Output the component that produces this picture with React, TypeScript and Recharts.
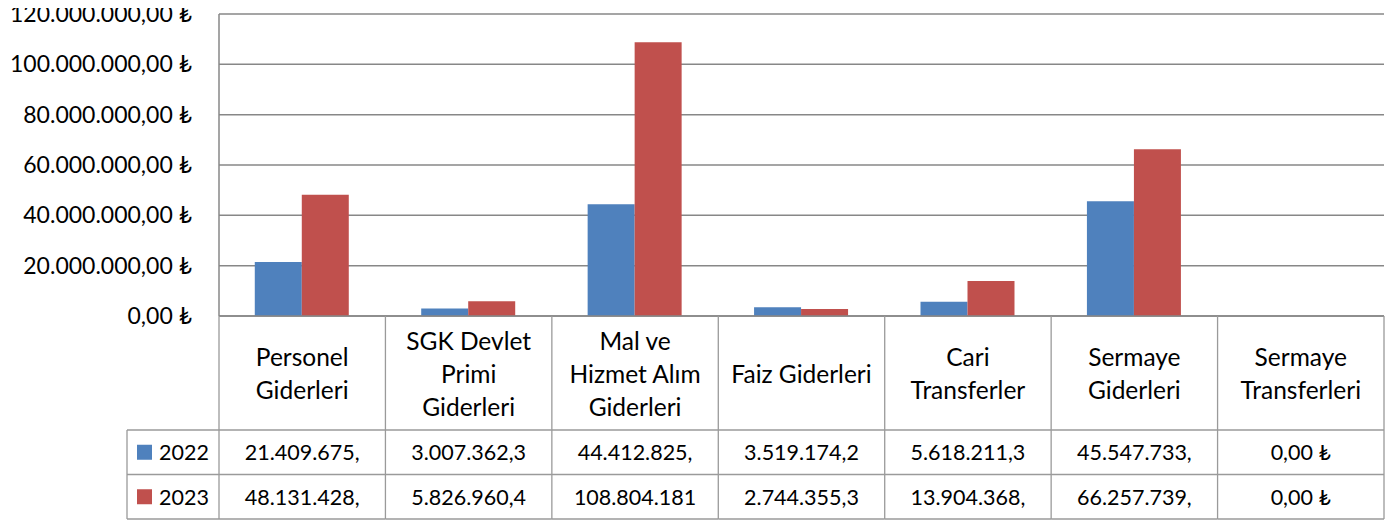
import { BarChart, Bar, XAxis, YAxis, CartesianGrid } from 'recharts'

const categories = [
  'Personel\nGiderleri',
  'SGK Devlet\nPrimi\nGiderleri',
  'Mal ve\nHizmet Alım\nGiderleri',
  'Faiz Giderleri',
  'Cari\nTransferler',
  'Sermaye\nGiderleri',
  'Sermaye\nTransferleri',
]
const seriesNames = ['2022', '2023']
const values2022 = [21409675, 3007362.3, 44412825, 3519174.2, 5618211.3, 45547733, 0]
const values2023 = [48131428, 5826960.4, 108804181, 2744355.3, 13904368, 66257739, 0]
// table cells show the text cut off the way the original sheet does
const labels2022 = ['21.409.675,', '3.007.362,3', '44.412.825,', '3.519.174,2', '5.618.211,3', '45.547.733,', '0,00 ₺']
const labels2023 = ['48.131.428,', '5.826.960,4', '108.804.181', '2.744.355,3', '13.904.368,', '66.257.739,', '0,00 ₺']
const yTicks = [0, 20000000, 40000000, 60000000, 80000000, 100000000, 120000000]

const colors = ['#4F81BD', '#C0504D']
const FONT = "Lato, 'DejaVu Sans', sans-serif"
const GRID = '#878787'
const TABLE_LINE = '#9a9a9a'

const CHART_W = 1384
const CHART_H = 520
const Y_AXIS_W = 211
const MARGIN = { top: 14, right: 8, bottom: 0, left: 0 }
const PLOT_W = CHART_W - MARGIN.left - MARGIN.right - Y_AXIS_W
const PLOT_H = 302
const HALF = PLOT_W / categories.length / 2
const HEAD_H = 114
const ROW_H = 44.5
const LEGEND_W = 92

const data = categories.map((name, i) => ({
  name,
  v2022: values2022[i],
  v2023: values2023[i],
}))

function formatLira(v: number) {
  const whole = Math.round(v).toString().replace(/\B(?=(\d{3})+(?!\d))/g, '.')
  return `${whole},00 ₺`
}

function TableTick(props: any) {
  const { x, y, payload } = props
  const i = payload.index
  const left = x - HALF
  const right = x + HALF
  const lines = String(payload.value).split('\n')
  const headMid = y + HEAD_H / 2
  const rowLabels = [labels2022[i], labels2023[i]]
  const lineStart = i === 0 ? left - LEGEND_W : left
  const rowTops = [y + HEAD_H, y + HEAD_H + ROW_H, y + HEAD_H + ROW_H * 2]

  return (
    <g>
      <line x1={left} y1={y} x2={left} y2={rowTops[2]} stroke={TABLE_LINE} strokeWidth={1.3} />
      {i === categories.length - 1 && (
        <line x1={right} y1={y} x2={right} y2={rowTops[2]} stroke={TABLE_LINE} strokeWidth={1.3} />
      )}
      {rowTops.map((ry, k) => (
        <line key={k} x1={lineStart} y1={ry} x2={right} y2={ry} stroke={TABLE_LINE} strokeWidth={1.3} />
      ))}
      {i === 0 && (
        <line x1={left - LEGEND_W} y1={rowTops[0]} x2={left - LEGEND_W} y2={rowTops[2]} stroke={TABLE_LINE} strokeWidth={1.3} />
      )}
      <text textAnchor="middle" fontFamily={FONT} fontSize={24.5} fill="#000">
        {lines.map((ln, k) => (
          <tspan key={k} x={x} y={headMid + (k - (lines.length - 1) / 2) * 33} dominantBaseline="central">
            {ln}
          </tspan>
        ))}
      </text>
      {rowLabels.map((lab, k) => (
        <text
          key={k}
          x={x}
          y={rowTops[k] + ROW_H / 2}
          textAnchor="middle"
          dominantBaseline="central"
          fontFamily={FONT}
          fontSize={21.5}
          fill="#000"
        >
          {lab}
        </text>
      ))}
      {i === 0 &&
        seriesNames.map((s, k) => (
          <g key={s}>
            <rect x={left - 82} y={rowTops[k] + ROW_H / 2 - 7.5} width={15} height={15} fill={colors[k]} />
            <text
              x={left - 60}
              y={rowTops[k] + ROW_H / 2}
              dominantBaseline="central"
              fontFamily={FONT}
              fontSize={21.5}
              fill="#000"
            >
              {s}
            </text>
          </g>
        ))}
    </g>
  )
}

export default function App() {
  return (
    <div style={{ marginTop: -8 }}>
      <BarChart width={CHART_W} height={CHART_H} data={data} margin={MARGIN} barCategoryGap="21.5%" barGap={0}>
        <CartesianGrid vertical={false} stroke={GRID} strokeWidth={1.5} />
        <XAxis
          dataKey="name"
          height={CHART_H - MARGIN.top - PLOT_H}
          interval={0}
          tickLine={false}
          tickSize={0}
          tickMargin={0}
          axisLine={{ stroke: GRID, strokeWidth: 1.5 }}
          tick={(p: any) => <TableTick {...p} />}
        />
        <YAxis
          width={Y_AXIS_W}
          domain={[0, 120000000]}
          ticks={yTicks}
          interval={0}
          tickFormatter={formatLira}
          tickLine={false}
          tickSize={0}
          tickMargin={27}
          axisLine={{ stroke: GRID, strokeWidth: 1.5 }}
          tick={{ fontFamily: FONT, fontSize: 23, fill: '#000' }}
        />
        <Bar dataKey="v2022" name={seriesNames[0]} fill={colors[0]} isAnimationActive={false} />
        <Bar dataKey="v2023" name={seriesNames[1]} fill={colors[1]} isAnimationActive={false} />
      </BarChart>
    </div>
  )
}
